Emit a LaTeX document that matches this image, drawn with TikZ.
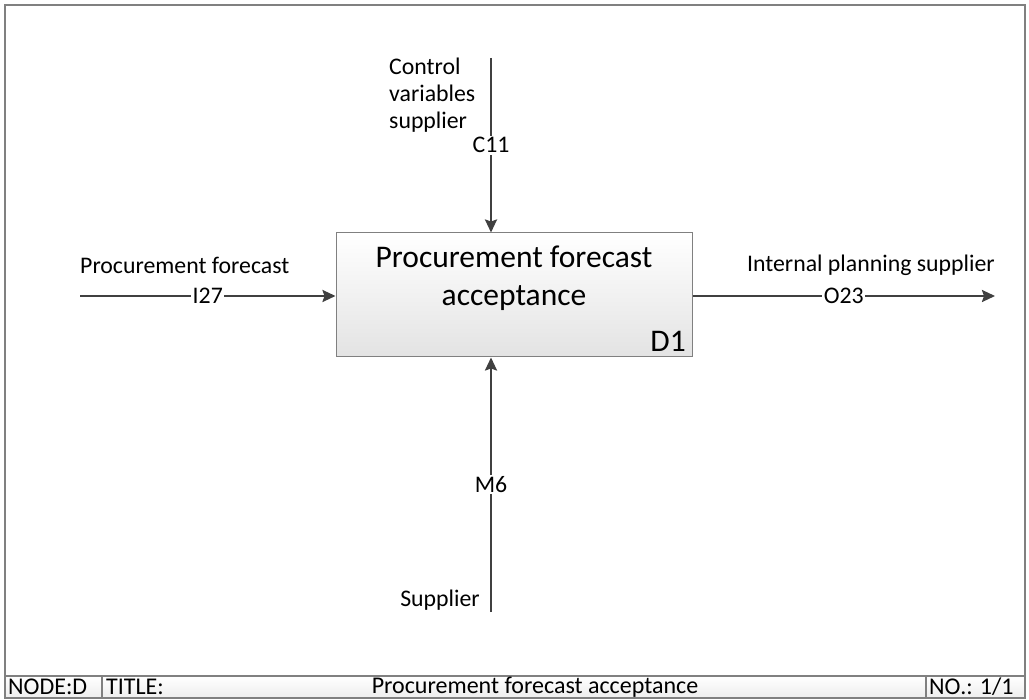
\documentclass[tikz,border=0pt]{standalone}
\usepackage{fontspec}
\setmainfont{Carlito}
\usetikzlibrary{arrows.meta,shadings}
\definecolor{linegray}{HTML}{404040}
\definecolor{framegray}{HTML}{808080}
\tikzset{
  flow/.style={draw=linegray, line width=2.3pt, -{Stealth[length=13pt,width=12pt,inset=2pt]}},
  lbl/.style={font=\fontsize{23.8}{27}\selectfont, inner sep=0pt, text=black},
  code/.style={font=\fontsize{23.8}{27}\selectfont, fill=white, inner sep=1.5pt, text=black},
  procbox/.style={draw=framegray, line width=1pt, top color=white, bottom color=gray!22,
    minimum width=356pt, minimum height=124pt, inner sep=0pt},
  boxtext/.style={font=\fontsize{31.5}{38}\selectfont, align=center, inner sep=0pt},
  bartext/.style={font=\fontsize{24}{26}\selectfont, inner sep=0pt, anchor=west},
}
\begin{document}
\begin{tikzpicture}[x=1pt,y=-1pt]
\useasboundingbox (0,0) rectangle (1029,700);
% sheet frame and title bar
\fill[top color=white, bottom color=gray!14] (5,676) rectangle (1025,698);
\draw[framegray, line width=1.2pt] (5,5) rectangle (1025,698);
\draw[framegray, line width=1.2pt] (5,676) -- (1025,676);
\draw[framegray, line width=1.2pt] (102,676) -- (102,698);
\draw[framegray, line width=1.2pt] (926,676) -- (926,698);
\node[bartext] (nodelbl) at (8,687) {NODE:D};
\node[bartext] (titlelbl) at (106,687) {TITLE:};
\node[bartext, anchor=center] (titletxt) at (535,687) {Procurement forecast acceptance};
\node[bartext] (nolbl) at (929,687) {NO.: 1/1};

% activity box
\node[procbox] (proc) at (514,295) {};
\node[boxtext] (proctext) at (514,278) {Procurement forecast\\acceptance};
\node[font=\fontsize{31.5}{38}\selectfont, inner sep=0pt, anchor=south east] (d1) at (686,352) {D1};

% input
\coordinate (inS) at (80,296);
\draw[flow] (inS) -- node[code, pos=0.5] (i27) {I27} (proc.west |- inS);
\node[lbl, anchor=west] (inlbl) at (80,265) {Procurement forecast};

% output
\coordinate (outE) at (995,296);
\draw[flow] (proc.east |- outE) -- node[code, pos=0.5] (o23) {O23} (outE);
\node[lbl, anchor=east] (outlbl) at (995,265) {Internal planning supplier};

% control
\coordinate (ctlS) at (491,58);
\draw[flow] (ctlS) -- node[code, pos=0.5] (c11) {C11} (proc.north -| ctlS);
\node[lbl, align=left, anchor=west] (ctllbl) at (389,95) {Control\\variables\\supplier};

% mechanism
\coordinate (mechS) at (491,612);
\draw[flow] (mechS) -- node[code, pos=0.5] (m6) {M6} (proc.south -| mechS);
\node[lbl, anchor=east] (mechlbl) at (480,600) {Supplier};
\end{tikzpicture}
\end{document}
